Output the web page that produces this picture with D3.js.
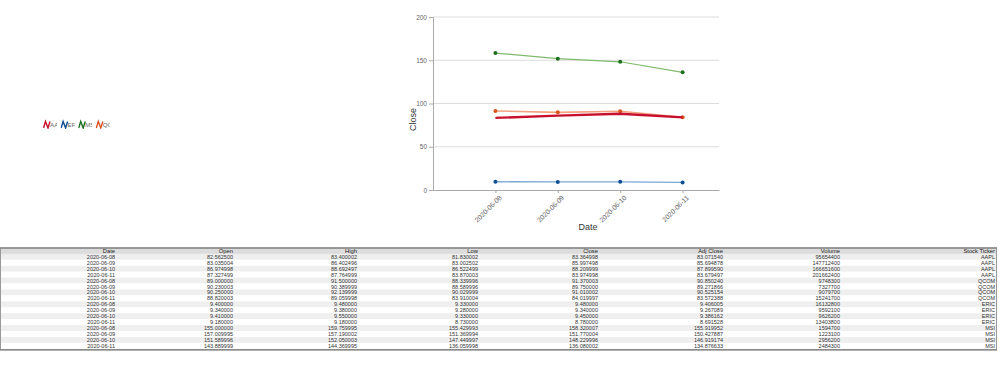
<!DOCTYPE html>
<html>
<head>
<meta charset="utf-8">
<script src="https://cdn.jsdelivr.net/npm/d3@7"></script>
<style>
  html, body { margin: 0; padding: 0; background: #fff; }
  svg { display: block; font-family: "Liberation Sans", Arial, sans-serif; }
</style>
</head>
<body>
<div id="chart"></div>
<script>
// 数据
const dates = ['2020-06-08', '2020-06-09', '2020-06-10', '2020-06-11']
const tickers = ['AAPL', 'QCOM', 'ERIC', 'MSI']
const legendOrder = ['AAPL', 'ERIC', 'MSI', 'QCOM']
const yTicks = [0, 50, 100, 150, 200]

const opens = [82.5625, 83.035004, 86.974998, 87.327499, 89.0, 90.230003, 90.25, 88.820003,
  9.4, 9.34, 9.41, 9.18, 155.0, 157.009995, 151.589996, 143.889999]
const highs = [83.400002, 86.402496, 88.692497, 87.764999, 91.5, 90.389999, 92.139999, 89.059998,
  9.48, 9.38, 9.55, 9.18, 159.759995, 157.190002, 152.050003, 144.369995]
const lows = [81.830002, 83.002502, 86.522499, 83.870003, 88.339996, 88.589996, 90.029999, 83.910004,
  9.33, 9.28, 9.33, 8.73, 155.429993, 151.369994, 147.449997, 136.059998]
const closes = [83.364998, 85.997498, 88.209999, 83.974998, 91.370003, 89.75, 91.010002, 84.019997,
  9.48, 9.34, 9.45, 8.78, 158.320007, 151.770004, 148.229996, 136.080002]
const adjCloses = [83.07154, 85.694878, 87.89959, 83.679497, 90.85024, 89.271866, 90.525154, 83.572388,
  9.406005, 9.267089, 9.386162, 8.691528, 155.919952, 150.427887, 146.919174, 134.876633]
const volumes = [95654400, 147712400, 166651600, 201662400, 9748300, 7327700, 9079700, 15241700,
  16132800, 9592100, 9626200, 13403800, 1594700, 1223100, 2956200, 2484300]

// 颜色
const lineColor = { AAPL: '#c8102e', ERIC: '#7ba7d6', MSI: '#7fba6e', QCOM: '#f3a27f' }
const dotColor = { AAPL: '#c8102e', ERIC: '#0d4f92', MSI: '#1c6f1c', QCOM: '#d9531e' }
const lineWidth = { AAPL: 2.4, ERIC: 1.4, MSI: 1.2, QCOM: 1.6 }

const width = 999
const height = 389
const parse = d3.timeParse('%Y-%m-%d')

// 行数据
const rows = closes.map((c, i) => ({
  date: dates[i % 4],
  open: opens[i],
  high: highs[i],
  low: lows[i],
  close: c,
  adj: adjCloses[i],
  volume: volumes[i],
  ticker: tickers[Math.floor(i / 4)]
}))

const svg = d3.select('#chart')
  .append('svg')
  .attr('width', width)
  .attr('height', height)

// ---------- 折线图 ----------
const plot = { left: 433, right: 719, top: 17, bottom: 190 }

const xScale = d3.scaleTime()
  .domain([parse('2020-06-07'), new Date(2020, 5, 11, 14)])
  .range([plot.left, plot.right])
const yScale = d3.scaleLinear()
  .domain([0, 200])
  .range([plot.bottom, plot.top])

// 网格线
svg.append('g')
  .selectAll('line')
  .data(yTicks.slice(1))
  .join('line')
  .attr('x1', plot.left)
  .attr('x2', plot.right)
  .attr('y1', d => yScale(d))
  .attr('y2', d => yScale(d))
  .attr('stroke', '#dcdcdc')
  .attr('stroke-width', 1)

// y轴
const yAxis = svg.append('g')
  .attr('transform', `translate(${plot.left},0)`)
  .call(d3.axisLeft(yScale).tickValues(yTicks).tickSize(4).tickPadding(2))
yAxis.select('.domain').attr('stroke', '#aaa')
yAxis.selectAll('.tick line').attr('stroke', '#aaa')
yAxis.selectAll('.tick text').attr('fill', '#666').attr('font-size', 6.5)

// x轴
const xAxis = svg.append('g')
  .attr('transform', `translate(0,${plot.bottom})`)
  .call(d3.axisBottom(xScale)
    .tickValues(dates.map(parse))
    .tickFormat(d3.timeFormat('%Y-%m-%d'))
    .tickSize(3)
    .tickSizeOuter(0))
xAxis.select('.domain').attr('stroke', '#aaa')
xAxis.selectAll('.tick line').attr('stroke', '#aaa')
xAxis.selectAll('.tick text')
  .attr('fill', '#666')
  .attr('font-size', 6.8)
  .attr('text-anchor', 'end')
  .attr('dy', 0)
  .attr('transform', 'translate(2,4) rotate(-45)')

// 轴标题
svg.append('text')
  .attr('x', (plot.left + plot.right) / 2 + 12)
  .attr('y', 230)
  .attr('text-anchor', 'middle')
  .attr('font-size', 9)
  .attr('fill', '#333')
  .text('Date')
svg.append('text')
  .attr('transform', `translate(416,${(plot.top + plot.bottom) / 2 + 16}) rotate(-90)`)
  .attr('text-anchor', 'middle')
  .attr('font-size', 9)
  .attr('fill', '#333')
  .text('Close')

// 折线
const line = d3.line()
  .x(d => xScale(parse(d.date)))
  .y(d => yScale(d.close))

const drawOrder = ['MSI', 'ERIC', 'QCOM', 'AAPL']
drawOrder.forEach(t => {
  const series = rows.filter(r => r.ticker === t)
  svg.append('path')
    .datum(series)
    .attr('fill', 'none')
    .attr('stroke', lineColor[t])
    .attr('stroke-width', lineWidth[t])
    .attr('d', line)
  if (t !== 'AAPL') {
    svg.append('g')
      .selectAll('circle')
      .data(series)
      .join('circle')
      .attr('cx', d => xScale(parse(d.date)))
      .attr('cy', d => yScale(d.close))
      .attr('r', 2)
      .attr('fill', dotColor[t])
  }
})

// ---------- 图例 ----------
const legend = svg.append('g')
  .attr('transform', 'translate(43,121)')
legendOrder.forEach((t, i) => {
  const g = legend.append('g')
    .attr('transform', `translate(${i * 17.6},0)`)
  const clipId = `legend-clip-${i}`
  g.append('clipPath')
    .attr('id', clipId)
    .append('rect')
    .attr('x', 0)
    .attr('y', -2)
    .attr('width', 14)
    .attr('height', 10)
  const inner = g.append('g').attr('clip-path', `url(#${clipId})`)
  inner.append('text')
    .attr('x', 7)
    .attr('y', 5.5)
    .attr('font-size', 6.2)
    .attr('fill', '#666')
    .text(t)
  inner.append('path')
    .attr('d', 'M0.5,7 L2.5,0.5 L5,7 L7,0.5')
    .attr('fill', 'none')
    .attr('stroke', dotColor[t])
    .attr('stroke-width', 1.4)
})

// ---------- 表格 ----------
const columns = [
  { name: 'Date', right: 115, fmt: d => d.date },
  { name: 'Open', right: 233, fmt: d => d.open.toFixed(6) },
  { name: 'High', right: 357, fmt: d => d.high.toFixed(6) },
  { name: 'Low', right: 478, fmt: d => d.low.toFixed(6) },
  { name: 'Close', right: 598, fmt: d => d.close.toFixed(6) },
  { name: 'Adj Close', right: 723, fmt: d => d.adj.toFixed(6) },
  { name: 'Volume', right: 840, fmt: d => String(d.volume) },
  { name: 'Stock Ticker', right: 995, fmt: d => d.ticker }
]
const table = { left: 0, right: 997, top: 248, rowH: 5.93 }

const tbl = svg.append('g')
const rowY = i => table.top + (i + 1) * table.rowH

// 表头背景
tbl.append('rect')
  .attr('x', table.left)
  .attr('y', table.top)
  .attr('width', table.right - table.left)
  .attr('height', table.rowH)
  .attr('fill', '#dcdcdc')

// 行背景
tbl.selectAll('rect.row')
  .data(rows)
  .join('rect')
  .attr('class', 'row')
  .attr('x', table.left)
  .attr('y', (d, i) => rowY(i))
  .attr('width', table.right - table.left)
  .attr('height', table.rowH)
  .attr('fill', (d, i) => i % 2 === 0 ? '#efefef' : '#fff')

// 边框
tbl.append('rect')
  .attr('x', table.left + 0.5)
  .attr('y', table.top)
  .attr('width', table.right - table.left - 1)
  .attr('height', table.rowH * (rows.length + 1) + 1)
  .attr('fill', 'none')
  .attr('stroke', '#999')
  .attr('stroke-width', 1)
tbl.append('line')
  .attr('x1', table.left)
  .attr('x2', table.right)
  .attr('y1', table.top)
  .attr('y2', table.top)
  .attr('stroke', '#888')
  .attr('stroke-width', 1.5)
tbl.append('line')
  .attr('x1', table.left)
  .attr('x2', table.right)
  .attr('y1', table.top + table.rowH * (rows.length + 1) + 1)
  .attr('y2', table.top + table.rowH * (rows.length + 1) + 1)
  .attr('stroke', '#888')
  .attr('stroke-width', 1.5)

// 表头文字
tbl.selectAll('text.head')
  .data(columns)
  .join('text')
  .attr('class', 'head')
  .attr('x', d => d.right)
  .attr('y', table.top + table.rowH - 1)
  .attr('text-anchor', 'end')
  .attr('font-size', 5.8)
  .attr('fill', '#222')
  .text(d => d.name)

// 单元格文字
columns.forEach(col => {
  tbl.append('g')
    .selectAll('text')
    .data(rows)
    .join('text')
    .attr('x', col.right)
    .attr('y', (d, i) => rowY(i) + table.rowH - 1)
    .attr('text-anchor', 'end')
    .attr('font-size', 5.5)
    .attr('fill', '#333')
    .text(col.fmt)
})
</script>
</body>
</html>
